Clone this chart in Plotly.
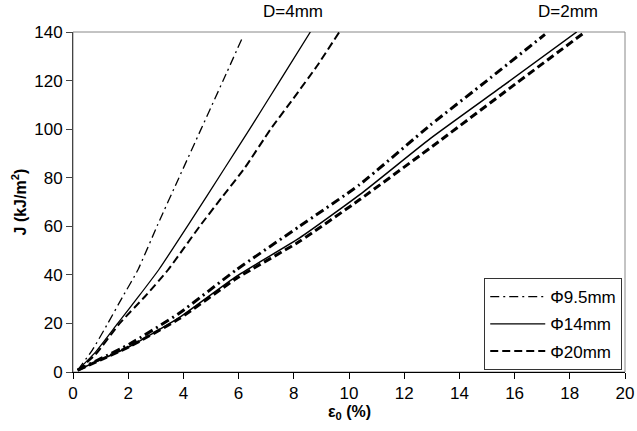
import plotly.graph_objects as go

# ---- data ----
# D = 4 mm
x_d4_95 = [0.17, 0.7, 1.26, 1.8, 2.35, 3.07, 3.84, 4.64, 5.44, 6.15]
y_d4_95 = [0.8, 9, 20, 31, 42, 60.7, 80, 100, 120, 138]
x_d4_14 = [0.17, 0.8, 1.62, 2.37, 3.1, 4.2, 5.5, 6.4, 7.5, 8.6]
y_d4_14 = [0.8, 8, 20, 31, 42, 61, 84, 100, 120, 140]
x_d4_20 = [0.17, 0.8, 1.69, 2.6, 3.44, 4.59, 5.4, 6.22, 7.16, 7.97, 8.84, 9.65]
y_d4_20 = [0.8, 7, 20, 31, 42, 60, 72, 84, 100, 112.4, 126, 140]
# D = 2 mm
x_d2_95 = [0.17, 1.0, 2.05, 3.86, 5.92, 8.21, 10.39, 12.93, 15.0, 17.1]
y_d2_95 = [0.8, 5.5, 11.5, 24.3, 42.1, 60, 77.2, 101.5, 120, 139]
x_d2_14 = [0.17, 1.0, 2.05, 3.86, 5.92, 8.21, 10.39, 12.93, 15.6, 18.25]
y_d2_14 = [0.8, 5, 10.5, 22.5, 39.4, 55.2, 73, 96, 118, 140]
x_d2_20 = [0.17, 1.0, 2.05, 3.86, 5.92, 8.21, 10.39, 13.29, 15.9, 18.55]
y_d2_20 = [0.8, 5, 10.5, 22, 38.5, 53.8, 71, 95.2, 117.5, 140]

legend_names = ["\u03a69.5mm", "\u03a614mm", "\u03a620mm"]
x_ticks = list(range(0, 21, 2))
y_ticks = list(range(0, 141, 20))

FONT = "Liberation Sans, Arial, sans-serif"
DASHDOT = "9px,4px,2px,4px"
DASH = "8px,4px"

fig = go.Figure()

def add(x, y, name, dash, width, show, group):
    fig.add_trace(go.Scatter(
        x=x, y=y, mode="lines", name=name, showlegend=show,
        legendgroup=group, hoverinfo="skip",
        line=dict(color="black", width=width, dash=dash, shape="spline", smoothing=0.5),
    ))

add(x_d4_95, y_d4_95, legend_names[0], DASHDOT, 1.3, True, "a")
add(x_d4_14, y_d4_14, legend_names[1], "solid", 1.3, True, "b")
add(x_d4_20, y_d4_20, legend_names[2], DASH, 2.0, True, "c")
add(x_d2_95, y_d2_95, legend_names[0], DASHDOT, 3.0, False, "a")
add(x_d2_14, y_d2_14, legend_names[1], "solid", 1.5, False, "b")
add(x_d2_20, y_d2_20, legend_names[2], DASH, 3.0, False, "c")

fig.update_layout(
    width=637, height=431,
    margin=dict(l=73, r=12, t=32, b=59),
    paper_bgcolor="white", plot_bgcolor="white",
    font=dict(family=FONT, size=17, color="black"),
    showlegend=True,
    legend=dict(
        x=0.995, y=0.276, xanchor="right", yanchor="top",
        bordercolor="#333", borderwidth=1, bgcolor="white",
        font=dict(family=FONT, size=17),
        traceorder="grouped", tracegroupgap=2, itemwidth=55,
    ),
    xaxis=dict(
        range=[0, 20], tickvals=x_ticks, ticktext=[str(v) for v in x_ticks],
        showgrid=False, zeroline=False, showline=True, linecolor="black", linewidth=1,
        ticks="outside", ticklen=6, tickcolor="black", automargin=False,
        tickfont=dict(family=FONT, size=17),
    ),
    yaxis=dict(
        range=[0, 140], tickvals=y_ticks, ticktext=[str(v) for v in y_ticks],
        showgrid=False, zeroline=False, showline=True, linecolor="#444", linewidth=1,
        ticks="outside", ticklen=6, tickcolor="#444", automargin=False,
        tickfont=dict(family=FONT, size=17),
    ),
    shapes=[dict(type="rect", xref="paper", yref="paper", x0=0, y0=0, x1=1, y1=1,
                 line=dict(color="#888", width=1), layer="below")],
    annotations=[
        dict(text="D=4mm", x=7.96, y=1.059, xref="x", yref="paper", yanchor="middle",
             showarrow=False, font=dict(family=FONT, size=17)),
        dict(text="D=2mm", x=17.93, y=1.059, xref="x", yref="paper", yanchor="middle",
             showarrow=False, font=dict(family=FONT, size=17)),
        dict(text="<b>J (kJ/m<sup>2</sup>)</b>", x=-0.097, y=0.5, xref="paper", yref="paper",
             xanchor="center", yanchor="middle", textangle=-90,
             showarrow=False, font=dict(family=FONT, size=16)),
        dict(text="<b>\u03b5<sub>0</sub> (%)</b>", x=0.5, y=-0.118, xref="paper", yref="paper",
             xanchor="center", yanchor="middle",
             showarrow=False, font=dict(family=FONT, size=16)),
    ],
)

fig.write_html("out.html", config={"displayModeBar": False},
               post_script="document.body.style.margin='0px';")
